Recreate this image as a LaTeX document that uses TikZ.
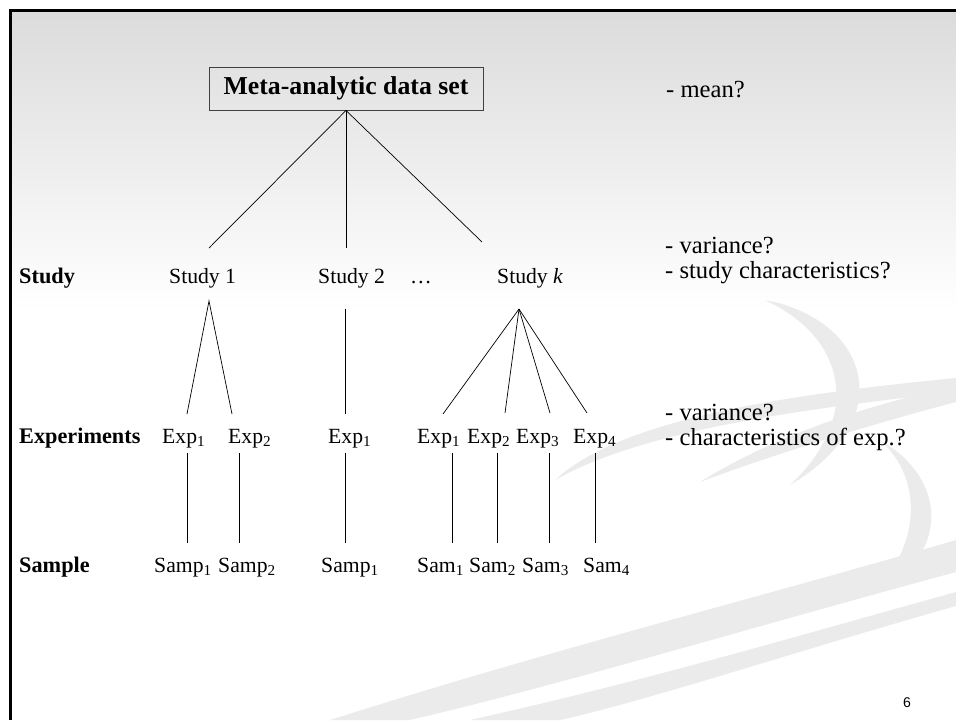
\documentclass[tikz,border=0pt]{standalone}
\usepackage{fontspec}
\setmainfont{Liberation Serif}
\newfontfamily\pagenumfont{Liberation Sans}
\usetikzlibrary{calc}

\begin{document}
\begin{tikzpicture}[x=0.03cm, y=-0.03cm]
    \tikzset{%
        rowname/.style={anchor=base west, inner sep=0pt, font=\fontsize{19}{20}\selectfont\bfseries},
        leaf/.style={anchor=base west, inner sep=0pt, font=\fontsize{18.5}{20}\selectfont},
        question/.style={anchor=base west, inner sep=0pt, font=\fontsize{21}{22}\selectfont},
        branch/.style={line width=0.6pt},
        swoosh/.style={fill=black!8},
    }

    \useasboundingbox (0, 0) rectangle (956, 720);

    % background and swooshes
    \shade [top color=black!14, bottom color=white] (10, 10) rectangle (956, 310);
    \fill [swoosh] (330, 720) .. controls (550, 650) and (750, 600) .. (956, 540)
        -- (956, 572) .. controls (760, 625) and (560, 685) .. (410, 720) -- cycle;
    \fill [swoosh] (470, 720) .. controls (650, 680) and (800, 635) .. (956, 592)
        -- (956, 606) .. controls (800, 650) and (650, 700) .. (560, 720) -- cycle;
    \fill [swoosh] (555, 480) .. controls (620, 420) and (780, 395) .. (956, 378)
        -- (956, 392) .. controls (790, 410) and (640, 432) .. (555, 480) -- cycle;
    \fill [swoosh] (700, 482) .. controls (780, 432) and (880, 402) .. (956, 386)
        -- (956, 402) .. controls (880, 422) and (780, 452) .. (700, 482) -- cycle;
    \fill [swoosh] (765, 300) .. controls (870, 320) and (900, 420) .. (790, 485)
        .. controls (860, 420) and (850, 340) .. (765, 300) -- cycle;
    \fill [swoosh] (880, 440) .. controls (950, 480) and (950, 560) .. (870, 595)
        .. controls (920, 550) and (925, 480) .. (880, 440) -- cycle;

    % frame
    \draw [line width=2.5pt] (10.5, 720) -- (10.5, 10.5) -- (956, 10.5);

    \node [draw=black!75, line width=0.8pt, minimum width=8.22cm, minimum height=1.29cm,
        font=\fontsize{22}{24}\selectfont\bfseries] (root) at (346, 88.5) {Meta-analytic data set};

    % row names
    \node [rowname] (study) at (19, 283) {Study};
    \node [rowname] (experiments) at (19, 443) {Experiments};
    \node [rowname] (sample) at (19, 572) {Sample};

    % studies
    \node [leaf] (s1) at (169, 283) {Study 1};
    \node [leaf] (s2) at (318, 283) {Study 2};
    \node [leaf] (dots) at (410, 283) {\dots};
    \node [leaf] (sk) at (497, 283) {Study \textit{k}};

    % experiments
    \node [leaf] (e11) at (162, 443) {Exp\textsubscript{1}};
    \node [leaf] (e12) at (228, 443) {Exp\textsubscript{2}};
    \node [leaf] (e21) at (328, 443) {Exp\textsubscript{1}};
    \node [leaf] (ek1) at (417, 443) {Exp\textsubscript{1}};
    \node [leaf] (ek2) at (467, 443) {Exp\textsubscript{2}};
    \node [leaf] (ek3) at (516, 443) {Exp\textsubscript{3}};
    \node [leaf] (ek4) at (573, 443) {Exp\textsubscript{4}};

    % samples
    \node [leaf] (m11) at (154, 572) {Samp\textsubscript{1}};
    \node [leaf] (m12) at (218, 572) {Samp\textsubscript{2}};
    \node [leaf] (m21) at (321, 572) {Samp\textsubscript{1}};
    \node [leaf] (mk1) at (417, 572) {Sam\textsubscript{1}};
    \node [leaf] (mk2) at (469, 572) {Sam\textsubscript{2}};
    \node [leaf] (mk3) at (522, 572) {Sam\textsubscript{3}};
    \node [leaf] (mk4) at (583, 572) {Sam\textsubscript{4}};

    % questions
    \node [question] (mean) at (666, 97) {- mean?};
    \node [question] (studyvar) at (665, 253) {- variance?};
    \node [question] (studychar) at (665, 278) {- study characteristics?};
    \node [question] (expvar) at (665, 420) {- variance?};
    \node [question] (expchar) at (665, 445) {- characteristics of exp.?};

    \node [anchor=base west, inner sep=0pt, font=\pagenumfont\fontsize{12}{12}\selectfont] (pagenum) at (903, 707) {6};

    % line ends
    \coordinate (s1-in) at (209, 248);
    \coordinate (s2-in) at (346, 248);
    \coordinate (sk-in) at (482, 242);
    \coordinate (s1-out) at (209, 301);
    \coordinate (s2-out) at (345, 309);
    \coordinate (sk-out) at (519, 309);
    \coordinate (e11-in) at (187, 414);
    \coordinate (e12-in) at (232, 414);
    \coordinate (e21-in) at (345, 414);
    \coordinate (ek1-in) at (443, 414);
    \coordinate (ek2-in) at (505, 413);
    \coordinate (ek3-in) at (550, 413);
    \coordinate (ek4-in) at (587, 413);

    \foreach \s in {s1, s2, sk} {%
            \draw [branch] (root.south) -- (\s-in);
        }
    \draw [branch] (e11-in) -- (s1-out) -- (e12-in);
    \draw [branch] (s2-out) -- (e21-in);
    \foreach \e in {ek1, ek2, ek3, ek4} {%
            \draw [branch] (sk-out) -- (\e-in);
        }

    % experiment -> sample
    \foreach \e/\m/\x in {e11/m11/187, e12/m12/239, e21/m21/345, ek1/mk1/452, ek2/mk2/497, ek3/mk3/549, ek4/mk4/595} {%
            \coordinate (\e-out) at (\x, 453);
            \coordinate (\m-in) at (\x, 543);
            \draw [branch] (\e-out) -- (\m-in);
        }
\end{tikzpicture}
\end{document}
